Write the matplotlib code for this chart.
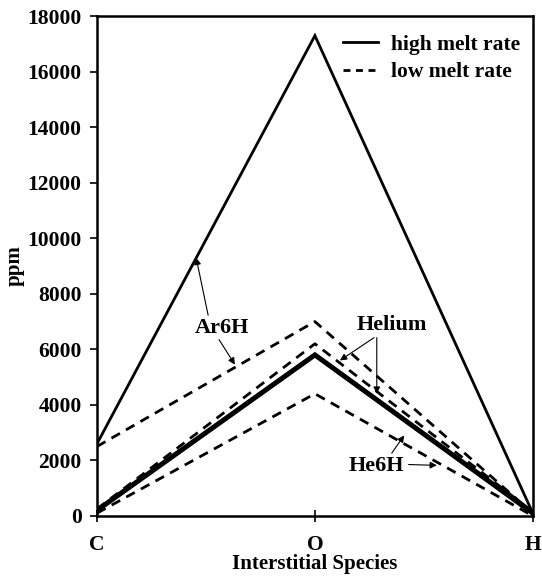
import matplotlib
matplotlib.use("Agg")
import matplotlib.pyplot as plt
from matplotlib.lines import Line2D

species = ["C", "O", "H"]
ar6h_high = [2600, 17300, 100]
he6h_high = [200, 5800, 100]
ar6h_low = [2500, 7000, 100]
helium_low = [250, 6200, 150]
he6h_low = [100, 4400, 0]
yticks = [0, 2000, 4000, 6000, 8000, 10000, 12000, 14000, 16000, 18000]

plt.rcParams['font.family'] = ['Liberation Serif', 'DejaVu Serif']
plt.rcParams['font.weight'] = 'bold'

fig = plt.figure(figsize=(5.42, 5.79), dpi=100)
ax = fig.add_axes([0.179, 0.109, 0.804, 0.863])

x = list(range(len(species)))
dash = (0, (3.5, 2.5))
ax.plot(x, ar6h_high, color='black', lw=2.0, solid_joinstyle='miter')
ax.plot(x, he6h_high, color='black', lw=3.6, solid_joinstyle='miter')
ax.plot(x, ar6h_low, color='black', lw=2.0, linestyle=dash)
ax.plot(x, helium_low, color='black', lw=2.0, linestyle=dash)
ax.plot(x, he6h_low, color='black', lw=2.0, linestyle=dash)

ax.set_xlim(0, 2)
ax.set_ylim(0, 18000)
ax.set_xticks(x)
ax.set_xticklabels(species, fontsize=15.5, fontweight='bold')
ax.set_yticks(yticks)
ax.set_yticklabels([str(v) for v in yticks], fontsize=15.5, fontweight='bold')
ax.tick_params(axis='y', direction='out', length=5, width=1.2, pad=6)
ax.tick_params(axis='x', direction='inout', length=8, width=1.2, pad=10)
for s in ax.spines.values():
    s.set_linewidth(1.8)

ax.set_xlabel("Interstitial Species", fontsize=15, fontweight='bold', labelpad=-1)
ax.set_ylabel("ppm", fontsize=15, fontweight='bold', labelpad=2)

handles = [Line2D([], [], color='black', lw=2.0),
           Line2D([], [], color='black', lw=2.0, linestyle=(0, (2.5, 2)))]
ax.legend(handles, ["high melt rate", "low melt rate"], loc='upper right',
          frameon=False, handlelength=1.6, handletextpad=0.6,
          borderaxespad=0.0, labelspacing=0.35, bbox_to_anchor=(0.99, 0.98),
          prop={'weight': 'bold', 'size': 15.5})

ap = dict(arrowstyle='-|>', color='black', lw=0.8, mutation_scale=10,
          shrinkA=0, shrinkB=0)
fs = 16
# Ar6H
ax.annotate("Ar6H", xy=(0.455, 9300), xytext=(0.575, 6770), fontsize=fs,
            fontweight='bold', ha='center', va='center',
            arrowprops=dict(ap, relpos=(0.25, 1.0)))
ax.annotate("", xy=(0.633, 5450), xytext=(0.56, 6350), arrowprops=ap)
# Helium
ax.annotate("Helium", xy=(1.115, 5600), xytext=(1.355, 6880), fontsize=fs,
            fontweight='bold', ha='center', va='center',
            arrowprops=dict(ap, relpos=(0.3, 0.0)))
ax.annotate("", xy=(1.284, 4400), xytext=(1.284, 6420), arrowprops=ap)
# He6H
ax.annotate("He6H", xy=(1.41, 2900), xytext=(1.28, 1800), fontsize=fs,
            fontweight='bold', ha='center', va='center',
            arrowprops=dict(ap, relpos=(0.75, 1.0)))
ax.annotate("", xy=(1.56, 1820), xytext=(1.43, 1850), arrowprops=ap)

fig.savefig("out.png", dpi=100)
